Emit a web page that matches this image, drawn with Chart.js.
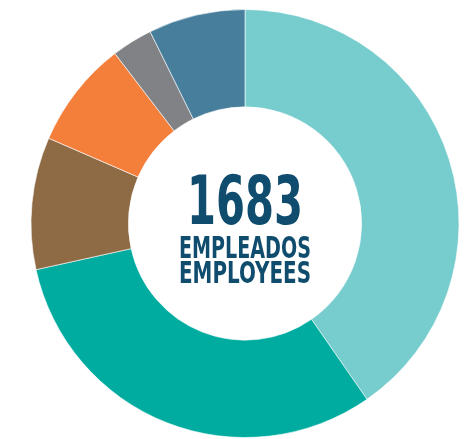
<!DOCTYPE html>
<html>
<head>
<meta charset="utf-8">
<script src="https://cdn.jsdelivr.net/npm/chart.js@4"></script>
<style>
  html, body { margin: 0; padding: 0; background: #fff; }
  #wrap { width: 474px; height: 439px; }
</style>
</head>
<body>
<div id="wrap"><canvas id="myChart"></canvas></div>
<script>
// employees per group (sum = 1683)
var groups = ['Grupo 1', 'Grupo 2', 'Grupo 3', 'Grupo 4', 'Grupo 5', 'Grupo 6'];
var employees = [679, 525, 168, 136, 52, 123];
var colors = ['#77cccd', '#00aca0', '#8e6b45', '#f47f3b', '#818286', '#467e9b'];
var total = 1683;
var centerLines = ['EMPLEADOS', 'EMPLOYEES'];

// draws the big number + two lines in the hole
var centerText = {
  id: 'centerText',
  afterDraw: function(chart) {
    var arc = chart.getDatasetMeta(0).data[0];
    if (!arc) return;
    var ctx = chart.ctx;
    var cx = arc.x, cy = arc.y;
    var font = '"Liberation Sans Narrow", "DejaVu Sans Condensed", sans-serif';
    function fit(txt, size, w, baseY) {
      ctx.save();
      ctx.font = 'bold ' + size + 'px ' + font;
      var m = ctx.measureText(txt).width;
      ctx.translate(cx, baseY);
      ctx.scale(w / m, 1);
      ctx.textAlign = 'center';
      ctx.textBaseline = 'alphabetic';
      ctx.fillStyle = '#0f4c6d';
      ctx.fillText(txt, 0, 0);
      ctx.restore();
    }
    fit(String(total), 67, 116, cy);
    fit(centerLines[0], 31, 132, cy + 34);
    fit(centerLines[1], 31, 132, cy + 59);
  }
};

var ctx = document.getElementById('myChart').getContext('2d');
var myChart = new Chart(ctx, {
  type: 'doughnut',
  data: {
    labels: groups,
    datasets: [{
      data: employees,
      backgroundColor: colors,
      borderColor: 'rgba(255,255,255,0.6)',
      borderWidth: 1
    }]
  },
  options: {
    responsive: true,
    maintainAspectRatio: false,
    animation: false,
    cutout: '54.5%',
    layout: { padding: { top: 9, bottom: 1, left: 16, right: 0 } },
    plugins: {
      legend: { display: false },
      tooltip: { enabled: false }
    }
  },
  plugins: [centerText]
});
</script>
</body>
</html>
